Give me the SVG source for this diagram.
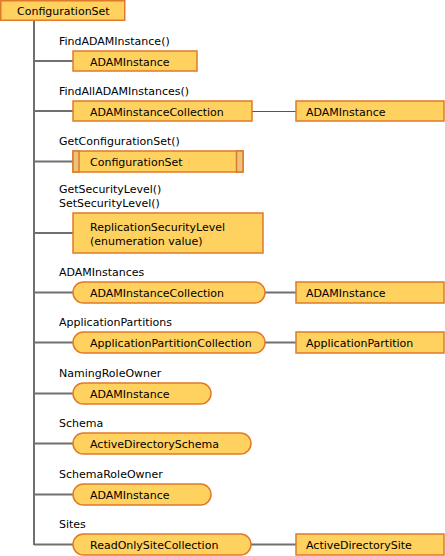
<svg xmlns="http://www.w3.org/2000/svg" width="445" height="556" viewBox="0 0 445 556">
<style>
text{font-family:"DejaVu Sans",Verdana,sans-serif;font-size:11px;fill:#000}
.b{fill:#FFD15F;stroke:#E07A2A;stroke-width:1.5}
.s{fill:#E8C57B;stroke:#E07A2A;stroke-width:1.5}
.c{stroke:#707070;stroke-width:2;fill:none}
.c1{stroke:#555;stroke-width:1;fill:none}
</style>
<rect width="445" height="556" fill="#fff"/>
<g id="connectors">
<path class="c" d="M34 20V545"/>
<path class="c" d="M34 61H73M34 111H73M34 161.5H73M34 233H73M34 292.5H73M34 342.5H73M34 393.5H73M34 443.5H73M34 494.5H73M34 544.5H73"/>
<path class="c1" d="M252 111.5H296"/>
<path class="c" d="M265 292.5H296M265 342.5H296M251 544.5H296"/>
</g>
<g id="root"><rect class="b" x="0.75" y="0.75" width="124" height="19.5"/><text x="17" y="15">ConfigurationSet</text></g>
<g id="n1"><text x="59" y="45">FindADAMInstance()</text><rect class="b" x="73" y="51" width="124" height="20"/><text x="90" y="65.5">ADAMInstance</text></g>
<g id="n2"><text x="59" y="95">FindAllADAMInstances()</text><rect class="b" x="73" y="101" width="179" height="20"/><text x="90" y="115.5">ADAMinstanceCollection</text></g>
<g id="n2b"><rect class="b" x="296" y="101" width="148" height="20"/><text x="306" y="115.5">ADAMInstance</text></g>
<g id="n3"><text x="59" y="145">GetConfigurationSet()</text><rect class="b" x="73" y="151" width="170" height="21"/><rect class="s" x="73" y="151" width="6" height="21"/><rect class="s" x="236.5" y="151" width="6.5" height="21"/><text x="90" y="166">ConfigurationSet</text></g>
<g id="n4"><text x="59" y="193">GetSecurityLevel()</text><text x="59" y="207">SetSecurityLevel()</text><rect class="b" x="73" y="213" width="190" height="40"/><text x="90" y="230.5">ReplicationSecurityLevel</text><text x="90" y="244.5">(enumeration value)</text></g>
<g id="n5"><text x="59" y="276">ADAMInstances</text><rect class="b" x="73" y="282" width="192" height="21" rx="10.5"/><text x="90" y="297">ADAMInstanceCollection</text></g>
<g id="n5b"><rect class="b" x="296" y="282" width="148" height="21"/><text x="306" y="297">ADAMInstance</text></g>
<g id="n6"><text x="59" y="326">ApplicationPartitions</text><rect class="b" x="73" y="332" width="192" height="21" rx="10.5"/><text x="90" y="347">ApplicationPartitionCollection</text></g>
<g id="n6b"><rect class="b" x="296" y="332" width="148" height="21"/><text x="306" y="347">ApplicationPartition</text></g>
<g id="n7"><text x="59" y="377">NamingRoleOwner</text><rect class="b" x="73" y="383" width="138" height="21" rx="10.5"/><text x="90" y="398">ADAMInstance</text></g>
<g id="n8"><text x="59" y="427">Schema</text><rect class="b" x="73" y="433" width="178" height="21" rx="10.5"/><text x="90" y="448">ActiveDirectorySchema</text></g>
<g id="n9"><text x="59" y="478">SchemaRoleOwner</text><rect class="b" x="73" y="484" width="138" height="21" rx="10.5"/><text x="90" y="499">ADAMInstance</text></g>
<g id="n10"><text x="59" y="528">Sites</text><rect class="b" x="73" y="534" width="178" height="21" rx="10.5"/><text x="90" y="549">ReadOnlySiteCollection</text></g>
<g id="n10b"><rect class="b" x="296" y="534" width="148" height="21"/><text x="306" y="549">ActiveDirectorySite</text></g>
</svg>
